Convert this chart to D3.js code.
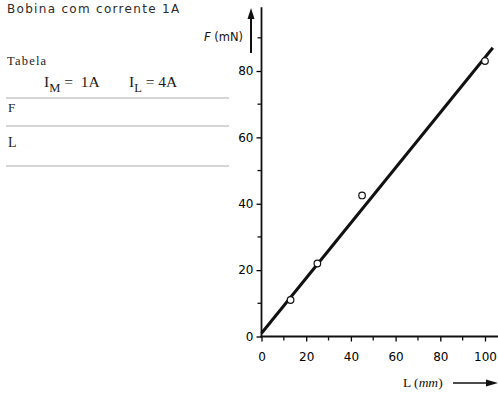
<!DOCTYPE html>
<html>
<head>
<meta charset="utf-8">
<script src="https://cdn.jsdelivr.net/npm/d3@7"></script>
<style>
  body { margin: 0; background: #fff; }
  svg { display: block; }
</style>
</head>
<body>
<div id="chart"></div>
<script>
// measured values (L in mm, F in mN)
const lengths = [13, 25, 45, 100];
const forces = [11, 22, 42.5, 83];
const fitL = [0, 103.5];
const fitF = [1, 87];
const xTicks = [0, 20, 40, 60, 80, 100];
const xMinor = [10, 30, 50, 70, 90];
const yTicks = [0, 20, 40, 60, 80];
const yMinor = [10, 30, 50, 70, 90];

const width = 498, height = 394;

const svg = d3.select("#chart")
    .append("svg")
    .attr("width", width)
    .attr("height", height);

const xScale = d3.scaleLinear().domain([0, 100]).range([261.5, 485]);
const yScale = d3.scaleLinear().domain([0, 80]).range([336.5, 71]);

const sans = "'DejaVu Sans', Arial, sans-serif";
const serif = "'Liberation Serif', 'DejaVu Serif', serif";
const nb = "\u00a0";

// header and table on the left
svg.append("text")
    .attr("x", 7).attr("y", 13)
    .style("font-family", sans).style("font-size", "12px")
    .style("letter-spacing", "1.3px")
    .attr("fill", "#2a2a2a")
    .text("Bobina com corrente 1A");

svg.append("text")
    .attr("x", 7).attr("y", 65)
    .style("font-family", serif).style("font-size", "12.5px")
    .style("letter-spacing", "1.2px")
    .attr("fill", "#222")
    .text("Tabela");

const head = svg.append("text")
    .attr("x", 44).attr("y", 87)
    .style("font-family", serif).style("font-size", "15.5px")
    .attr("fill", "#1a1a1a");
head.append("tspan").text("I");
head.append("tspan").attr("dy", 5).style("font-size", "12.5px").text("M");
head.append("tspan").attr("dy", -5).text(nb + "=" + nb + nb + "1A");
head.append("tspan").attr("x", 129).text("I");
head.append("tspan").attr("dy", 5).style("font-size", "12.5px").text("L");
head.append("tspan").attr("dy", -5).text(nb + "=" + nb + "4A");

[98, 126, 166].forEach(y => {
    svg.append("line")
        .attr("x1", 6).attr("x2", 229)
        .attr("y1", y).attr("y2", y)
        .attr("stroke", "#c8c8c8")
        .attr("stroke-width", 1.6);
});

svg.append("text")
    .attr("x", 8).attr("y", 112)
    .style("font-family", serif).style("font-size", "13px")
    .attr("fill", "#222").text("F");
svg.append("text")
    .attr("x", 8).attr("y", 147)
    .style("font-family", serif).style("font-size", "14px")
    .attr("fill", "#222").text("L");

// axes
const yAxis = svg.append("g")
    .attr("transform", "translate(" + xScale(0) + ",0)")
    .call(d3.axisLeft(yScale).tickValues(yTicks).tickSize(5).tickPadding(3).tickSizeOuter(0));
yAxis.select(".domain").remove();
yAxis.selectAll("text").style("font-family", sans).style("font-size", "12px").attr("fill", "#000");
yAxis.selectAll("line").attr("stroke-width", 1.3);

svg.append("g")
    .selectAll("line")
    .data(yMinor)
    .enter()
    .append("line")
    .attr("x1", xScale(0) - 4).attr("x2", xScale(0))
    .attr("y1", d => yScale(d)).attr("y2", d => yScale(d))
    .attr("stroke", "#111").attr("stroke-width", 1.3);

const xAxis = svg.append("g")
    .attr("transform", "translate(0," + yScale(0) + ")")
    .call(d3.axisBottom(xScale).tickValues(xTicks).tickSize(5).tickPadding(11).tickSizeOuter(0));
xAxis.select(".domain").remove();
xAxis.selectAll("text").style("font-family", sans).style("font-size", "12px").attr("fill", "#000");
xAxis.selectAll("line").attr("stroke-width", 1.3);

svg.append("g")
    .selectAll("line")
    .data(xMinor)
    .enter()
    .append("line")
    .attr("x1", d => xScale(d)).attr("x2", d => xScale(d))
    .attr("y1", yScale(0)).attr("y2", yScale(0) + 4)
    .attr("stroke", "#111").attr("stroke-width", 1.3);

// axis lines
svg.append("line")
    .attr("x1", xScale(0)).attr("x2", xScale(0))
    .attr("y1", yScale(0) + 1).attr("y2", yScale(99.2))
    .attr("stroke", "#111").attr("stroke-width", 1.8);
svg.append("line")
    .attr("x1", xScale(0) - 1).attr("x2", width)
    .attr("y1", yScale(0)).attr("y2", yScale(0))
    .attr("stroke", "#111").attr("stroke-width", 1.8);

// axis titles with arrows
const fLabel = svg.append("text")
    .attr("x", 243).attr("y", 41)
    .attr("text-anchor", "end")
    .style("font-family", sans).style("font-size", "11.5px")
    .attr("fill", "#111");
fLabel.append("tspan").style("font-style", "italic").text("F");
fLabel.append("tspan").text(" (mN)");

svg.append("line")
    .attr("x1", 251).attr("x2", 251)
    .attr("y1", 53).attr("y2", 16)
    .attr("stroke", "#111").attr("stroke-width", 2);
svg.append("path")
    .attr("d", "M251,8 L247.5,19 L254.5,19 Z")
    .attr("fill", "#111");

const lLabel = svg.append("text")
    .attr("x", 403).attr("y", 387)
    .style("font-family", serif).style("font-size", "13.5px")
    .attr("fill", "#111");
lLabel.append("tspan").text("L (");
lLabel.append("tspan").style("font-style", "italic").text("mm");
lLabel.append("tspan").text(")");

svg.append("line")
    .attr("x1", 453).attr("x2", 488)
    .attr("y1", 383).attr("y2", 383)
    .attr("stroke", "#111").attr("stroke-width", 1.6);
svg.append("path")
    .attr("d", "M498,383 L486,379.5 L486,386.5 Z")
    .attr("fill", "#111");

// fitted line
const line = d3.line()
    .x(d => xScale(d[0]))
    .y(d => yScale(d[1]));

svg.append("path")
    .datum(d3.zip(fitL, fitF))
    .attr("fill", "none")
    .attr("stroke", "#111")
    .attr("stroke-width", 3)
    .attr("d", line);

// measured points
svg.append("g")
    .selectAll("circle")
    .data(d3.zip(lengths, forces))
    .enter()
    .append("circle")
    .attr("cx", d => xScale(d[0]))
    .attr("cy", d => yScale(d[1]))
    .attr("r", 3.3)
    .attr("fill", "#fff")
    .attr("stroke", "#111")
    .attr("stroke-width", 1.2);
</script>
</body>
</html>
